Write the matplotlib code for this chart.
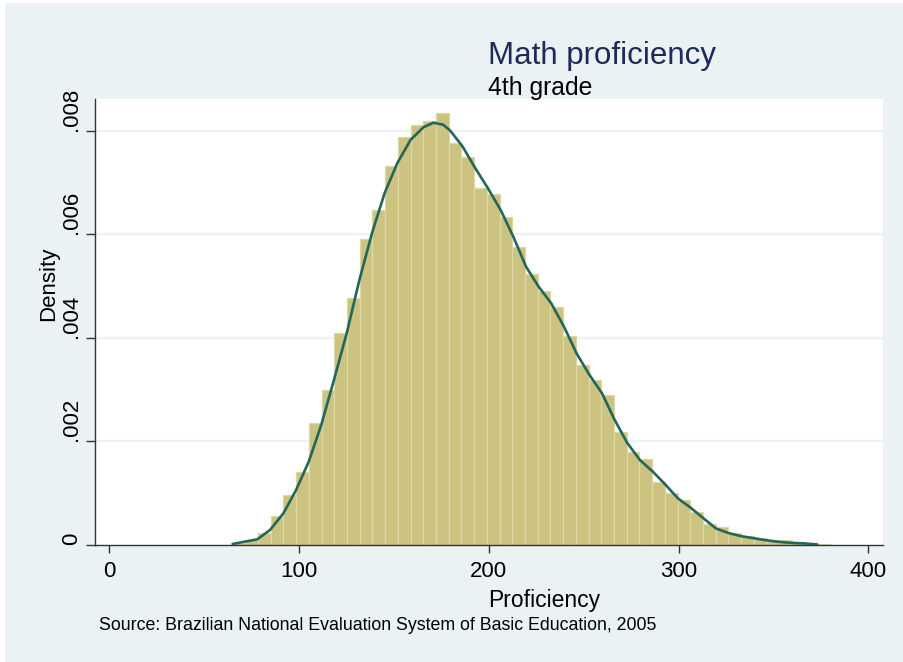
import numpy as np
import matplotlib
matplotlib.use("Agg")
import matplotlib.pyplot as plt
from matplotlib.patches import Rectangle

# ---- data ----
bin_start = 65.0
bin_width = 6.7
bar_heights = [0.00003, 0.00010, 0.00023, 0.00056, 0.00097, 0.00141, 0.00236, 0.00300,
               0.00409, 0.00477, 0.00591, 0.00647, 0.00732, 0.00788, 0.00811, 0.00819,
               0.00834, 0.00777, 0.00749, 0.00689, 0.00678, 0.00634, 0.00575, 0.00524,
               0.00490, 0.00459, 0.00403, 0.00348, 0.00318, 0.00289, 0.00218, 0.00179,
               0.00166, 0.00121, 0.00100, 0.00086, 0.00064, 0.00041, 0.00034, 0.00023,
               0.00017, 0.00013, 0.00010, 0.00010, 0.00006, 0.00003, 0.00002]

kde_x = [65.0, 78.0, 84.7, 91.7, 98.4, 105.1, 111.7, 118.4, 125.1, 131.8, 138.4, 145.1,
         151.8, 158.8, 165.5, 170.8, 176.0, 179.6, 186.2, 192.9, 199.6, 206.3, 212.9,
         219.6, 226.3, 232.9, 239.6, 246.3, 253.0, 259.7, 266.3, 273.0, 279.7, 286.4,
         293.0, 299.7, 306.4, 313.0, 319.7, 326.4, 333.1, 339.8, 346.5, 353.1, 359.8,
         366.5, 373.1]
kde_y = [0.00002, 0.00011, 0.00029, 0.00061, 0.00106, 0.00161, 0.00232, 0.00319, 0.00409,
         0.00512, 0.00602, 0.00680, 0.00738, 0.00783, 0.00807, 0.00816, 0.00812, 0.00801,
         0.00770, 0.00728, 0.00689, 0.00647, 0.00596, 0.00538, 0.00499, 0.00467, 0.00422,
         0.00370, 0.00329, 0.00293, 0.00242, 0.00197, 0.00164, 0.00142, 0.00117, 0.00090,
         0.00072, 0.00052, 0.00032, 0.00023, 0.00017, 0.00013, 0.00009, 0.00006, 0.00004,
         0.00003, 0.00001]

x_ticks = [0, 100, 200, 300, 400]
x_tick_labels = ["0", "100", "200", "300", "400"]
y_ticks = [0, 0.002, 0.004, 0.006, 0.008]
y_tick_labels = ["0", ".002", ".004", ".006", ".008"]

title = "Math proficiency"
subtitle = "4th grade"
xlabel = "Proficiency"
ylabel = "Density"
note = "Source: Brazilian National Evaluation System of Basic Education, 2005"

# ---- styling ----
plt.rcParams['font.family'] = ['Liberation Sans', 'DejaVu Sans']
BG = "#EAF2F3"
BAR = "#CBC37F"
BAR_EDGE = "#DDD8A6"
LINE = "#22665C"
TITLE_C = "#1E2A5A"

W, H = 904, 662
fig = plt.figure(figsize=(W / 100, H / 100), dpi=100, facecolor="white")
fig.patches.append(Rectangle((5 / W, 0), 1 - 5 / W, 1 - 3 / H, transform=fig.transFigure,
                             facecolor=BG, edgecolor="none", zorder=-10))

ax_l, ax_r, ax_t, ax_b = 95, 882.7, 99, 545
ax = fig.add_axes([ax_l / W, 1 - ax_b / H, (ax_r - ax_l) / W, (ax_b - ax_t) / H])
ax.set_facecolor("white")

lefts = [bin_start + i * bin_width for i in range(len(bar_heights))]
ax.bar(lefts, bar_heights, width=bin_width, align='edge', color=BAR,
       edgecolor=BAR_EDGE, linewidth=0.9, zorder=2)
ax.plot(kde_x, kde_y, color=LINE, linewidth=1.9, zorder=3, solid_capstyle='round',
        solid_joinstyle='round')

ax.set_xlim(-7.54, 407.6)
ax.set_ylim(0, 0.008618)

for yv in y_ticks[1:]:
    ax.axhline(yv, color=BG, linewidth=1.6, zorder=1)

ax.set_xticks(x_ticks)
ax.set_xticklabels(x_tick_labels, fontsize=16)
ax.set_yticks(y_ticks)
ax.set_yticklabels(y_tick_labels, fontsize=16, rotation=90, va='bottom')

for s in ['top', 'right']:
    ax.spines[s].set_visible(False)
for s in ['left', 'bottom']:
    ax.spines[s].set_color("#333333")
    ax.spines[s].set_linewidth(1.0)
ax.tick_params(axis='x', length=5.5, width=1.0, color="#333333", pad=6)
ax.tick_params(axis='y', length=6.5, width=1.0, color="#333333", pad=3)

def fx(px):
    return px / W

def fy(py):
    return 1 - py / H

fig.text(fx(488), fy(64), title, fontsize=22.5, color=TITLE_C, ha='left', va='baseline')
fig.text(fx(488), fy(95.5), subtitle, fontsize=17.8, color='black', ha='left', va='baseline')
fig.text(fx(544.5), fy(607), xlabel, fontsize=16.5, color='black', ha='center', va='baseline')
fig.text(fx(49), fy(283.5), ylabel, fontsize=16, color='black', rotation=90,
         ha='center', va='center')
fig.text(fx(99), fy(630.5), note, fontsize=12.75, color='black', ha='left', va='baseline')

fig.savefig("out.png", dpi=100, facecolor=fig.get_facecolor())
